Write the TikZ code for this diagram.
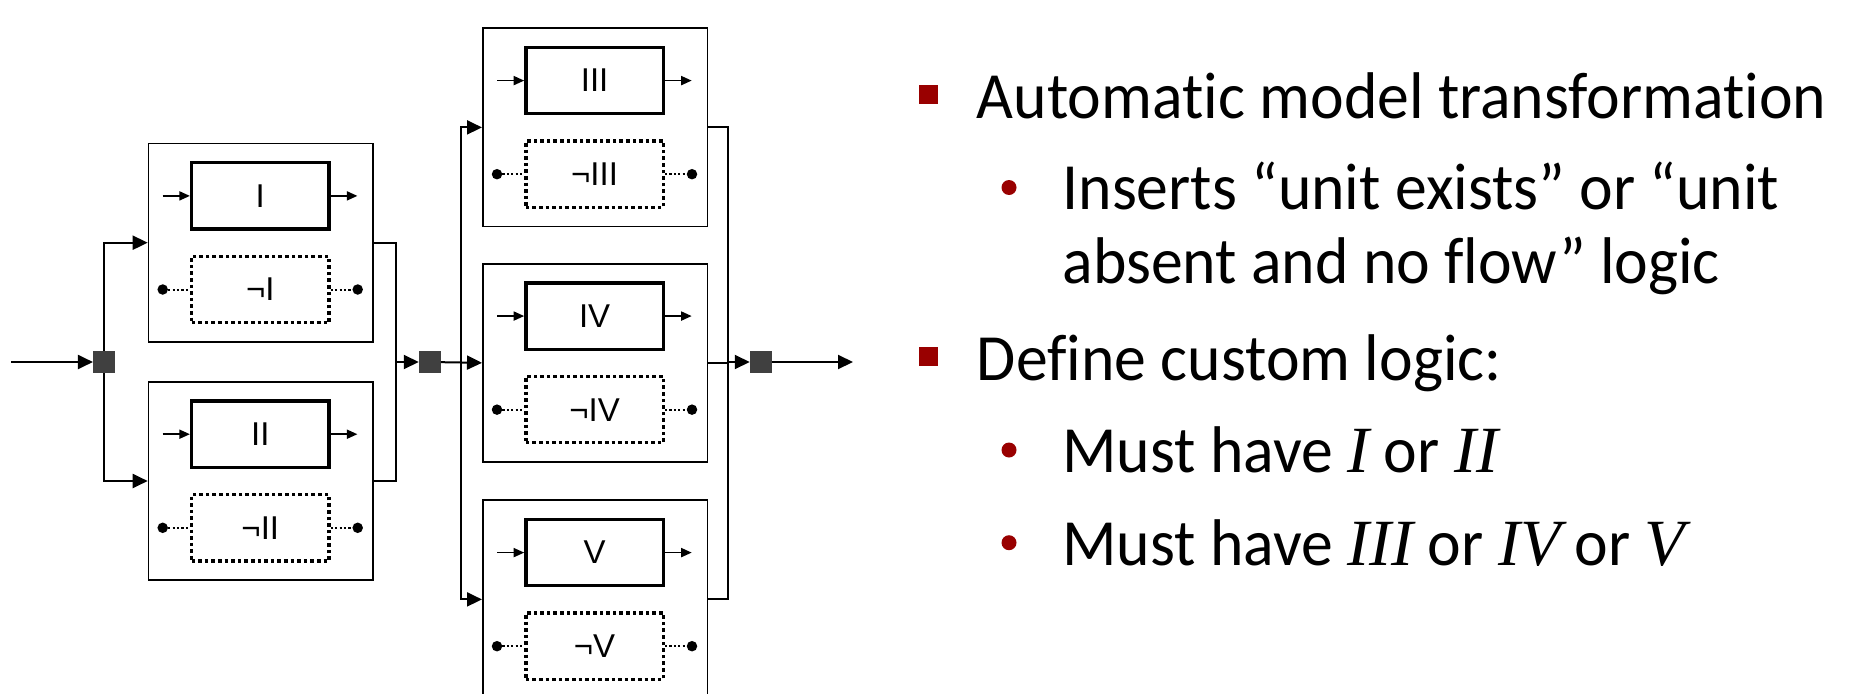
\documentclass[tikz,border=0pt]{standalone}
\usepackage{fontspec}
\setmainfont{Carlito}[Ligatures=NoCommon, FakeStretch=0.965]
\newfontfamily\diagfont{Liberation Sans}
\newfontfamily\varfont{Liberation Serif}
\usetikzlibrary{arrows.meta}
\definecolor{bulletred}{RGB}{153,0,0}
\definecolor{junctiongray}{RGB}{64,64,64}
\newcommand\mv[1]{{\varfont\itshape #1}}

\tikzset{
  flow/.style={line width=2pt, -{Triangle[length=15pt,width=14pt]}},
  wire/.style={line width=2pt},
  outerbox/.style={draw, line width=1.7pt, minimum width=224.5pt, minimum height=198.3pt,
    inner sep=0pt, anchor=north west},
  unitbox/.style={draw, line width=3.3pt, minimum width=137.5pt, minimum height=66.3pt,
    inner sep=0pt, font=\diagfont\fontsize{33}{40}\selectfont},
  negbox/.style={unitbox, line width=3.3pt, dash pattern=on 3.6pt off 3pt},
  smallflow/.style={line width=1.7pt, -{Triangle[length=10.5pt,width=9pt]}},
  tie/.style={line width=2pt, dash pattern=on 2.2pt off 2.2pt},
  pin/.style={circle, fill, inner sep=0pt, minimum size=10.5pt},
  junction/.style={fill=junctiongray, minimum size=21.7pt, inner sep=0pt},
  mainitem/.style={anchor=base west, inner sep=0pt, font=\fontsize{66}{74}\selectfont},
  bulletsq/.style={fill=bulletred, minimum size=19pt, inner sep=0pt},
  bulletdot/.style={circle, fill=bulletred, minimum size=15pt, inner sep=0pt},
}

% one unit: outer frame, the present unit with its flow arrows,
% and the dotted "absent" alternative with its tie points
\newcommand\unitblock[4]{%
  \node[outerbox] (#1) at (#2,#3) {};
  \node[unitbox] (#1-u) at (#2+112.6,#3+53.2) {#4};
  \node[negbox] (#1-n) at (#2+112.6,#3+146.8) {¬#4};
  \coordinate (#1-in) at (#2+15,#3+53.2);
  \coordinate (#1-out) at (#2+209.7,#3+53.2);
  \node[pin] (#1-dl) at (#2+15,#3+146.8) {};
  \node[pin] (#1-dr) at (#2+210,#3+146.8) {};
  \draw[smallflow] (#1-in) -- (#1-u);
  \draw[smallflow] (#1-u) -- (#1-out);
  \draw[tie] (#1-dl) -- (#1-n);
  \draw[tie] (#1-n) -- (#1-dr);
}

\begin{document}
\begin{tikzpicture}[x=1pt, y=-1pt]
\useasboundingbox (0,0) rectangle (1851,693);
\clip (0,0) rectangle (1851,693);
\fill[white] (0,0) rectangle (1851,693);

% units
\unitblock{I}{147.7}{142.7}{I}
\unitblock{II}{147.7}{381}{II}
\unitblock{III}{482}{27.4}{III}
\unitblock{IV}{482}{262.85}{IV}
\unitblock{V}{482}{499.4}{V}

% junctions and bus points
\coordinate (src) at (11,362);
\node[junction] (j1) at (104,362) {};
\coordinate (m1) at (395.7,362);
\node[junction] (j2) at (429.8,362) {};
\coordinate (s2) at (461,362);
\coordinate (m2) at (728.3,362);
\node[junction] (j3) at (760.8,362) {};
\coordinate (sink) at (853,362);

% first stage: I or II
\draw[flow] (src) -- (j1);
\draw[flow] (j1) |- (I.west);
\draw[flow] (j1) |- (II.west);
\draw[wire] (I.east) -| (m1);
\draw[wire] (II.east) -| (m1);
\draw[flow] (m1) -- (j2);

% second stage: III or IV or V
\draw[flow] (j2) -- (IV.west);
\draw[flow] (s2) |- (III.west);
\draw[flow] (s2) |- (V.west);
\draw[wire] (III.east) -| (m2);
\draw[wire] (V.east) -| (m2);
\draw[wire] (IV.east) -- (IV.east -| m2);
\draw[flow] (m2) -- (j3);
\draw[flow] (j3) -- (sink);

% bullet list
\node[bulletsq] (b1) at (928.5,94) {};
\node[mainitem] (t1) at (976.7,118.3) {Automatic model transformation};
\node[bulletdot] (d1) at (1009,187.5) {};
\node[mainitem] (t2) at (1062.3,209.3) {Inserts “unit exists” or “unit};
\node[mainitem] (t3) at (1062.3,283.3) {absent and no flow” logic};
\node[bulletsq] (b2) at (928.5,356.5) {};
\node[mainitem] (t4) at (976.7,380) {Define custom logic:};
\node[bulletdot] (d2) at (1009,450) {};
\node[mainitem] (t5) at (1062.3,472.7) {Must have \mv{I} or \mv{II}};
\node[bulletdot] (d3) at (1009,542.7) {};
\node[mainitem] (t6) at (1062.3,565) {Must have \mv{III} or \mv{IV} or \mv{V}};
\end{tikzpicture}
\end{document}
